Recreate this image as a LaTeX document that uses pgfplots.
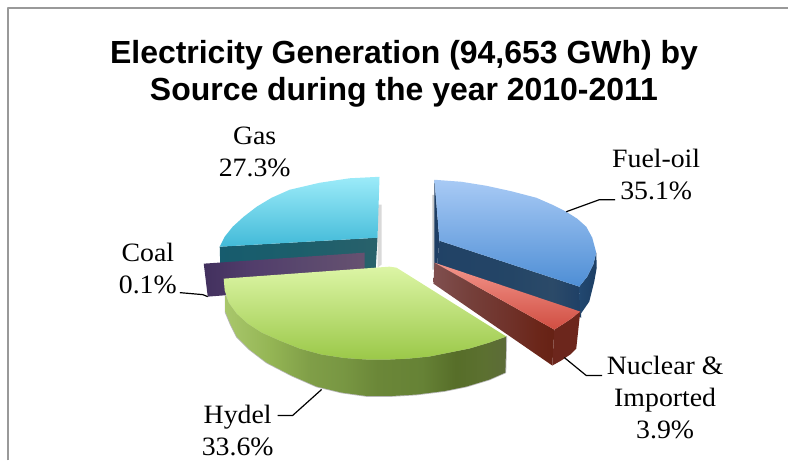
\documentclass[border=0pt]{standalone}
\usepackage{pgfplots}
\usepackage{fontspec}
\pgfplotsset{compat=1.18}
\setmainfont[FakeStretch=1.05]{Liberation Serif}
\newfontfamily\titlefont{Liberation Sans}

% Streaked shadings for the rim and cut faces of the slices
\pgfdeclarehorizontalshading{hydelside}{100bp}{
  rgb(0bp)=(.66,.78,.42); rgb(25bp)=(.66,.78,.42); rgb(33bp)=(.58,.71,.33);
  rgb(40bp)=(.50,.62,.28); rgb(46bp)=(.47,.59,.26); rgb(52bp)=(.42,.53,.22);
  rgb(60bp)=(.40,.51,.21); rgb(66bp)=(.34,.43,.16); rgb(71bp)=(.36,.44,.19);
  rgb(75bp)=(.36,.42,.22); rgb(100bp)=(.36,.42,.22)}
\pgfdeclarehorizontalshading{coalside}{100bp}{
  rgb(0bp)=(.26,.19,.37); rgb(25bp)=(.26,.19,.37); rgb(40bp)=(.32,.24,.42);
  rgb(55bp)=(.35,.28,.43); rgb(75bp)=(.40,.32,.44); rgb(100bp)=(.40,.32,.44)}
\pgfdeclarehorizontalshading{redcut}{100bp}{
  rgb(0bp)=(.50,.31,.31); rgb(25bp)=(.50,.31,.31); rgb(40bp)=(.46,.25,.23);
  rgb(55bp)=(.44,.20,.17); rgb(68bp)=(.42,.15,.10); rgb(75bp)=(.40,.13,.08);
  rgb(100bp)=(.40,.13,.08)}
\pgfdeclarehorizontalshading{gascut}{100bp}{
  rgb(0bp)=(.09,.36,.43); rgb(25bp)=(.09,.36,.43); rgb(50bp)=(.11,.37,.42);
  rgb(75bp)=(.16,.38,.42); rgb(100bp)=(.16,.38,.42)}
\pgfdeclarehorizontalshading{bluecut}{100bp}{
  rgb(0bp)=(.13,.26,.40); rgb(25bp)=(.13,.26,.40); rgb(50bp)=(.14,.27,.40);
  rgb(65bp)=(.17,.29,.41); rgb(75bp)=(.12,.25,.40); rgb(100bp)=(.12,.25,.40)}

\begin{document}
\begin{tikzpicture}
\begin{axis}[
  scale only axis, width=789pt, height=461pt,
  xmin=0, xmax=789, ymin=0, ymax=461, y dir=reverse,
  hide axis, clip=false,
  every axis plot/.append style={draw=none, line join=round}
]
% page extent
\addplot[draw=none, fill=none] coordinates {(0,0) (789,461)};
% chart frame
\addplot[draw=black!40, line width=2pt, fill=none] coordinates {(8,461) (8,8) (789,8)};

% Gas
\addplot[fill=black!25, opacity=.6] coordinates {(378,205) (382,205) (382,265) (378,268)} -- cycle;
\addplot[shading=gascut] coordinates {(220,247) (378,238) (376,272) (221,282)} -- cycle;
\addplot[top color={rgb,255:red,156;green,235;blue,249}, bottom color={rgb,255:red,66;green,186;blue,216}] coordinates {
  (380,177) (350,178.5) (320,183) (290,190) (272,198) (257,207) (244,217) (233,227) (225,237) (220,247) (378,238)} -- cycle;

% Coal
\addplot[shading=coalside] coordinates {(204,264) (365,253) (365,285) (208,297)} -- cycle;

% Fuel-oil
\addplot[fill=black!35, opacity=.6] coordinates {(433,195) (437,195) (438,270) (433,270)} -- cycle;
\addplot[fill={rgb,255:red,30;green,62;blue,100}] coordinates {(435,180) (440,241) (437,272) (435,272)} -- cycle;
\addplot[shading=bluecut] coordinates {(440,241) (580,287) (582,318) (437,272)} -- cycle;
\addplot[left color={rgb,255:red,34;green,72;blue,112}, right color={rgb,255:red,28;green,62;blue,100}] coordinates {
  (580,287) (588,277) (594,265) (597,253) (597.5,268) (595,282) (590,302) (581,315)} -- cycle;
\addplot[top color={rgb,255:red,168;green,202;blue,245}, bottom color={rgb,255:red,78;green,142;blue,213}] coordinates {
  (435,180) (462,182) (487,186) (512,191.5) (537,198) (553,205) (567,212) (578,219) (587,227) (593,238) (597,253) (594,265) (588,277) (580,287) (440,241)} -- cycle;

% Nuclear & Imported
\addplot[shading=redcut] coordinates {(435,263) (555,330) (553,366) (434,284)} -- cycle;
\addplot[fill={rgb,255:red,108;green,38;blue,28}] coordinates {(581,312) (572,319) (563,325) (555,330) (553,366) (562,361) (571,355) (577,349)} -- cycle;
\addplot[top color={rgb,255:red,244;green,150;blue,140}, bottom color={rgb,255:red,208;green,78;blue,66}] coordinates {
  (435,263) (581,312) (572,319) (563,325) (555,330)} -- cycle;

% Hydel
\addplot[draw=black!28, line width=1.6pt, shading=hydelside] coordinates {
  (507,337) (490,343) (470,349) (450,353) (430,357) (410,359) (390,360) (367,360) (345,358.5) (322,355) (300,349) (280,341) (262,333) (248,324) (237,314) (229,303) (226,296)
  (226,313) (231,325) (237,337) (250,350) (267,363) (292,376) (317,387) (342,393) (367,396.5) (392,396.5) (417,395) (445,391.5) (467,387) (490,380) (506,373)} -- cycle;
\addplot[shading=hydelside] coordinates {
  (507,337) (490,343) (470,349) (450,353) (430,357) (410,359) (390,360) (367,360) (345,358.5) (322,355) (300,349) (280,341) (262,333) (248,324) (237,314) (229,303) (226,296)
  (226,313) (231,325) (237,337) (250,350) (267,363) (292,376) (317,387) (342,393) (367,396.5) (392,396.5) (417,395) (445,391.5) (467,387) (490,380) (506,373)} -- cycle;
\addplot[top color={rgb,255:red,220;green,245;blue,165}, bottom color={rgb,255:red,155;green,200;blue,72}] coordinates {
  (224,279) (390,267) (397,268) (507,337) (490,343) (470,349) (450,353) (430,357) (410,359) (390,360) (367,360) (345,358.5) (322,355) (300,349) (280,341) (262,333) (248,324) (237,314) (229,303) (225,291)} -- cycle;

% leader lines
\addplot[draw=black, line width=1.2pt] coordinates {(567,212) (600,200) (616,200)};
\addplot[draw=black, line width=1.2pt] coordinates {(565,358) (587,376) (603,376)};
\addplot[draw=black, line width=1.2pt] coordinates {(322,390) (293,416) (278,416)};
\addplot[draw=black, line width=1.2pt] coordinates {(180,293) (203,295) (208,297)};

% title and slice labels
\node[align=center, font={\titlefont\bfseries\fontsize{32}{37.5}\selectfont}] at (axis cs:404.5,74)
  {Electricity Generation (94,653 GWh) by\\Source during the year 2010-2011};
\def\lab{\fontsize{26.5}{32}\selectfont}
\node[align=center, font=\lab] at (axis cs:255,152) {Gas\\27.3\%};
\node[align=center, font=\lab] at (axis cs:657,175) {Fuel-oil\\35.1\%};
\node[align=center, font=\lab] at (axis cs:148,269) {Coal\\0.1\%};
\node[align=center, font=\lab] at (axis cs:666,398) {Nuclear \&\\Imported\\3.9\%};
\node[align=center, font=\lab] at (axis cs:238,431) {Hydel\\33.6\%};
\end{axis}
\end{tikzpicture}
\end{document}
